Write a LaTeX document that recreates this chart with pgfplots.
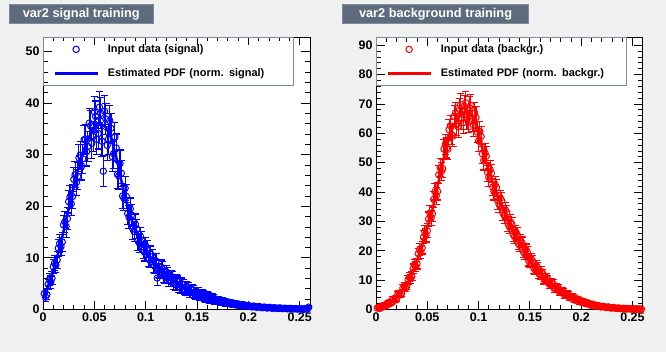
\documentclass[border=0pt]{standalone}
\usepackage{fontspec}
\setmainfont{Liberation Sans}
\usepackage{pgfplots}
\pgfplotsset{compat=1.18}
\usepackage{pgfplotstable}
\definecolor{canvasbg}{HTML}{F0F0F0}
\definecolor{titlebox}{HTML}{5D6B7D}
\definecolor{titleborder}{HTML}{7D8B9D}
\definecolor{legborder}{HTML}{7D8B9D}

\pgfplotstableread{
x y e
0.00125 3.1 0.8
0.00375 2.9 0.9
0.00625 5.8 1.1
0.00875 6.1 1.3
0.01125 9.0 1.4
0.01375 9.6 1.6
0.01625 12.8 1.7
0.01875 13.1 1.9
0.02125 17.0 2.0
0.02375 17.6 2.1
0.02625 21.8 2.3
0.02875 21.9 2.4
0.03125 26.1 2.5
0.03375 25.8 2.6
0.03625 29.9 2.7
0.03875 29.2 2.8
0.04125 33.0 2.8
0.04375 31.6 2.9
0.04625 35.6 2.9
0.04875 33.5 2.9
0.05125 37.4 3.0
0.05375 34.1 3.0
0.05625 38.0 3.0
0.05875 26.8 3.0
0.06125 36.9 3.0
0.06375 33.0 2.9
0.06625 35.1 2.9
0.06875 30.2 2.8
0.07125 31.3 2.7
0.07375 25.9 2.6
0.07625 26.4 2.5
0.07875 21.6 2.4
0.08125 21.9 2.3
0.08375 17.9 2.2
0.08625 18.3 2.1
0.08875 15.1 2.0
0.09125 15.6 1.9
0.09375 12.9 1.9
0.09625 13.4 1.8
0.09875 11.1 1.7
0.10125 11.7 1.7
0.10375 9.7 1.6
0.10625 10.2 1.5
0.10875 8.4 1.5
0.11125 6.1 1.4
0.11375 7.4 1.4
0.11625 7.9 1.4
0.11875 6.4 1.3
0.12125 6.9 1.3
0.12375 5.6 1.2
0.12625 6.1 1.2
0.12875 4.9 1.2
0.13125 5.4 1.1
0.13375 4.3 1.1
0.13625 4.8 1.0
0.13875 3.8 1.0
0.14125 4.2 1.0
0.14375 3.3 1.0
0.14625 3.7 0.9
0.14875 2.9 0.9
0.15125 3.3 0.9
0.15375 2.5 0.8
0.15625 2.9 0.8
0.15875 2.2 0.8
0.16125 2.5 0.8
0.16375 1.9 0.7
0.16625 2.2 0.7
0.16875 1.6 0.7
0.17125 1.9 0.7
0.17375 1.4 0.6
0.17625 1.6 0.6
0.17875 1.2 0.6
0.18125 1.4 0.6
0.18375 1.0 0.5
0.18625 1.2 0.5
0.18875 0.9 0.5
0.19125 1.0 0.5
0.19375 0.7 0.5
0.19625 0.9 0.4
0.19875 0.6 0.4
0.20125 0.7 0.4
0.20375 0.5 0.4
0.20625 0.6 0.4
0.20875 0.45 0.35
0.21125 0.55 0.35
0.21375 0.35 0.3
0.21625 0.45 0.3
0.21875 0.3 0.3
0.22125 0.4 0.3
0.22375 0.25 0.3
0.22625 0.3 0.25
0.22875 0.22 0.25
0.23125 0.28 0.25
0.23375 0.18 0.2
0.23625 0.22 0.2
0.23875 0.15 0.2
0.24125 0.2 0.2
0.24375 0.12 0.2
0.24625 0.16 0.2
0.24875 0.1 0.15
0.25125 0.14 0.15
0.25375 0.08 0.15
0.25625 0.12 0.15
0.25875 0.45 0.3
}\sigdata

\pgfplotstableread{
x y e
0.0025 2.4 0.9
0.005 4.9 1.0
0.0075 5.3 1.2
0.01 8.3 1.4
0.0125 8.6 1.5
0.015 11.9 1.7
0.0175 12.2 1.8
0.02 16.4 1.9
0.0225 16.1 2.1
0.025 20.9 2.2
0.0275 20.5 2.3
0.03 25.2 2.4
0.0325 24.6 2.5
0.035 29.4 2.6
0.0375 27.8 2.7
0.04 32.9 2.8
0.0425 30.6 2.8
0.045 36.1 2.9
0.0475 32.2 2.9
0.05 38.3 3.0
0.0525 33.0 3.0
0.055 39.2 3.0
0.0575 32.6 3.0
0.06 38.4 3.0
0.0625 31.8 3.0
0.065 36.6 2.9
0.0675 29.6 2.9
0.07 33.4 2.8
0.0725 26.2 2.7
0.075 28.3 2.6
0.0775 22.0 2.4
0.08 23.5 2.3
0.0825 18.6 2.2
0.085 19.5 2.1
0.0875 15.6 2.0
0.09 16.5 2.0
0.0925 13.3 1.9
0.095 14.1 1.8
0.0975 11.5 1.7
0.1 12.3 1.7
0.1025 9.9 1.6
0.105 10.7 1.6
0.1075 8.6 1.5
0.11 9.4 1.5
0.1125 7.6 1.4
0.115 8.2 1.4
0.1175 6.6 1.3
0.12 7.2 1.3
0.1225 5.8 1.3
0.125 6.4 1.2
0.1275 5.1 1.2
0.13 5.6 1.1
0.1325 4.4 1.1
0.135 5.0 1.1
0.1375 3.9 1.0
0.14 4.4 1.0
0.1425 3.4 1.0
0.145 3.9 0.9
0.1475 3.0 0.9
0.15 3.4 0.9
0.1525 2.6 0.85
0.155 3.0 0.8
0.1575 2.3 0.8
0.16 2.6 0.8
0.1625 2.0 0.75
0.165 2.3 0.7
0.1675 1.7 0.7
0.17 1.95 0.65
0.1725 1.45 0.65
0.175 1.7 0.6
0.1775 1.25 0.6
0.18 1.45 0.55
0.1825 1.05 0.55
0.185 1.25 0.5
0.1875 0.9 0.5
0.19 1.05 0.5
0.1925 0.75 0.45
0.195 0.9 0.45
0.1975 0.65 0.4
0.2 0.75 0.4
0.2025 0.55 0.4
0.205 0.65 0.4
0.2075 0.45 0.35
0.21 0.55 0.35
0.2125 0.38 0.35
0.215 0.45 0.3
0.2175 0.32 0.3
0.22 0.4 0.3
0.2225 0.27 0.3
0.225 0.33 0.25
0.2275 0.23 0.25
0.23 0.29 0.25
0.2325 0.2 0.25
0.235 0.24 0.2
0.2375 0.16 0.2
0.24 0.2 0.2
0.2425 0.13 0.2
0.245 0.17 0.2
0.2475 0.11 0.15
0.25 0.15 0.15
0.2525 0.09 0.15
0.255 0.13 0.15
0.2575 0.08 0.15
}\sigdatab

\pgfplotstableread{
x y
0 2.0
0.00125 2.6
0.00625 5.2
0.01125 8.4
0.01625 12.0
0.02125 16.2
0.02625 20.6
0.03125 25.0
0.03625 28.8
0.04125 31.8
0.04625 34.0
0.05125 35.4
0.05625 36.0
0.06125 35.3
0.06625 33.3
0.07125 29.6
0.07625 25.0
0.08125 20.8
0.08625 17.4
0.09125 14.8
0.09625 12.7
0.10125 11.0
0.10625 9.6
0.11125 8.4
0.11625 7.4
0.12125 6.5
0.12625 5.7
0.13125 5.0
0.13625 4.4
0.14125 3.9
0.14625 3.4
0.15125 3.0
0.15625 2.62
0.16125 2.28
0.16625 1.97
0.17125 1.7
0.17625 1.45
0.18125 1.24
0.18625 1.05
0.19125 0.9
0.19625 0.76
0.20125 0.64
0.20625 0.54
0.21125 0.46
0.21625 0.39
0.22125 0.33
0.22625 0.28
0.23125 0.24
0.23625 0.2
0.24125 0.17
0.24625 0.14
0.25125 0.12
0.25625 0.1
0.26 0.09
}\sigpdf

\pgfplotstableread{
x y e
0.00125 0.5 0.3
0.00375 0.4 0.35
0.00625 1.3 0.45
0.00875 1.1 0.5
0.01125 2.2 0.6
0.01375 2.0 0.7
0.01625 3.5 0.8
0.01875 3.2 0.85
0.02125 5.1 0.95
0.02375 5.0 1.05
0.02625 7.3 1.15
0.02875 7.4 1.25
0.03125 10.1 1.4
0.03375 10.5 1.5
0.03625 13.9 1.6
0.03875 14.6 1.8
0.04125 19.0 1.9
0.04375 19.5 2.0
0.04625 24.6 2.2
0.04875 25.3 2.3
0.05125 30.8 2.4
0.05375 31.2 2.6
0.05625 37.5 2.7
0.05875 38.7 2.9
0.06125 45.9 3.0
0.06375 47.0 3.1
0.06625 54.6 3.3
0.06875 55.0 3.4
0.07125 61.2 3.5
0.07375 59.6 3.5
0.07625 65.8 3.6
0.07875 63.0 3.6
0.08125 68.1 3.7
0.08375 64.9 3.7
0.08625 69.2 3.7
0.08875 65.1 3.7
0.09125 68.7 3.7
0.09375 64.2 3.7
0.09625 66.9 3.6
0.09875 60.4 3.5
0.10125 60.6 3.4
0.10375 53.0 3.3
0.10625 53.4 3.2
0.10875 46.8 3.1
0.11125 47.6 3.0
0.11375 41.7 3.0
0.11625 42.5 2.9
0.11875 37.0 2.8
0.12125 37.9 2.7
0.12375 32.9 2.6
0.12625 33.9 2.6
0.12875 29.2 2.5
0.13125 29.8 2.4
0.13375 25.6 2.3
0.13625 26.4 2.3
0.13875 22.5 2.2
0.14125 23.3 2.1
0.14375 19.6 2.0
0.14625 20.3 2.0
0.14875 16.7 1.9
0.15125 17.4 1.8
0.15375 14.1 1.7
0.15625 15.0 1.7
0.15875 12.2 1.6
0.16125 12.9 1.6
0.16375 10.2 1.5
0.16625 10.9 1.4
0.16875 8.7 1.4
0.17125 9.3 1.3
0.17375 7.2 1.3
0.17625 7.8 1.2
0.17875 6.0 1.2
0.18125 6.5 1.1
0.18375 4.9 1.1
0.18625 5.4 1.0
0.18875 4.0 1.0
0.19125 4.4 0.9
0.19375 3.2 0.9
0.19625 3.6 0.8
0.19875 2.6 0.8
0.20125 2.9 0.75
0.20375 2.0 0.7
0.20625 2.3 0.65
0.20875 1.5 0.6
0.21125 1.8 0.6
0.21375 1.2 0.55
0.21625 1.4 0.5
0.21875 0.9 0.45
0.22125 1.1 0.45
0.22375 0.7 0.4
0.22625 0.9 0.4
0.22875 0.5 0.35
0.23125 0.7 0.35
0.23375 0.4 0.3
0.23625 0.5 0.3
0.23875 0.3 0.3
0.24125 0.4 0.25
0.24375 0.2 0.25
0.24625 0.3 0.2
0.24875 0.15 0.2
0.25125 0.25 0.2
0.25375 0.12 0.2
0.25625 0.2 0.15
0.25875 0.1 0.15
}\bkgdata

\pgfplotstableread{
x y e
0.0025 0.7 0.3
0.005 0.6 0.4
0.0075 1.4 0.5
0.01 1.3 0.55
0.0125 2.4 0.65
0.015 2.3 0.7
0.0175 3.7 0.8
0.02 3.6 0.9
0.0225 5.6 1.0
0.025 5.5 1.1
0.0275 7.9 1.2
0.03 8.0 1.3
0.0325 11.0 1.45
0.035 11.3 1.55
0.0375 15.2 1.7
0.04 15.6 1.8
0.0425 20.4 2.0
0.045 21.0 2.1
0.0475 26.5 2.25
0.05 26.8 2.4
0.0525 32.8 2.5
0.055 32.6 2.6
0.0575 40.1 2.8
0.06 40.2 2.9
0.0625 48.3 3.05
0.065 48.0 3.2
0.0675 56.2 3.3
0.07 54.6 3.4
0.0725 62.6 3.5
0.075 59.1 3.5
0.0775 67.0 3.6
0.08 62.3 3.6
0.0825 69.8 3.7
0.085 63.6 3.7
0.0875 70.4 3.7
0.09 63.9 3.7
0.0925 69.5 3.7
0.095 62.6 3.6
0.0975 65.4 3.6
0.1 57.4 3.5
0.1025 58.9 3.4
0.105 50.8 3.3
0.1075 52.2 3.2
0.11 45.0 3.1
0.1125 46.4 3.0
0.115 40.2 2.9
0.1175 41.5 2.8
0.12 35.8 2.75
0.1225 37.1 2.7
0.125 32.0 2.6
0.1275 33.0 2.5
0.13 28.2 2.45
0.1325 29.0 2.4
0.135 24.8 2.3
0.1375 25.6 2.2
0.14 21.9 2.15
0.1425 22.6 2.1
0.145 19.0 2.0
0.1475 19.5 1.95
0.15 16.1 1.85
0.1525 16.6 1.8
0.155 13.6 1.7
0.1575 14.3 1.65
0.16 11.8 1.6
0.1625 12.2 1.5
0.165 9.9 1.45
0.1675 10.3 1.4
0.17 8.4 1.35
0.1725 8.8 1.3
0.175 7.0 1.25
0.1775 7.4 1.2
0.18 5.8 1.15
0.1825 6.1 1.1
0.185 4.8 1.05
0.1875 5.1 1.0
0.19 3.9 0.95
0.1925 4.2 0.9
0.195 3.2 0.85
0.1975 3.4 0.8
0.2 2.5 0.75
0.2025 2.7 0.7
0.205 2.0 0.65
0.2075 2.1 0.65
0.21 1.5 0.6
0.2125 1.65 0.55
0.215 1.15 0.5
0.2175 1.25 0.5
0.22 0.9 0.45
0.2225 0.95 0.45
0.225 0.7 0.4
0.2275 0.75 0.4
0.23 0.5 0.35
0.2325 0.6 0.35
0.235 0.4 0.3
0.2375 0.45 0.3
0.24 0.3 0.25
0.2425 0.35 0.25
0.245 0.2 0.25
0.2475 0.25 0.2
0.25 0.15 0.2
0.2525 0.2 0.2
0.255 0.12 0.2
0.2575 0.15 0.15
}\bkgdatab

\pgfplotstableread{
x y
0 0.2
0.005 0.8
0.01 1.5
0.015 2.6
0.02 4
0.025 6
0.03 8.5
0.035 12
0.04 16.5
0.045 22
0.05 28
0.055 34
0.06 42
0.065 50
0.07 57
0.075 62
0.08 65.5
0.085 67
0.09 67
0.095 65.5
0.1 60
0.105 53
0.11 47
0.115 42
0.12 37.5
0.125 33.5
0.13 29.5
0.135 26
0.14 23
0.145 20
0.15 17
0.155 14.5
0.16 12.5
0.165 10.5
0.17 9
0.175 7.5
0.18 6.3
0.185 5.2
0.19 4.3
0.195 3.5
0.2 2.8
0.205 2.2
0.21 1.7
0.215 1.3
0.22 1.0
0.225 0.8
0.23 0.6
0.235 0.45
0.24 0.35
0.245 0.25
0.25 0.2
0.255 0.15
0.26 0.1
}\bkgpdf

\pgfplotsset{
  tmva/.style={
    scale only axis, height=272.5bp,
    xmin=0, xmax=0.26, ymin=0,
    color=#1,
    axis background/.style={fill=white},
    axis line style={line width=0.8bp, draw=black},
    tick align=inside,
    major tick length=8.5bp, minor tick length=4.5bp,
    every tick/.style={draw=black, line width=0.8bp},
    xtick={0,0.05,0.1,0.15,0.2,0.25},
    xticklabels={0,0.05,0.1,0.15,0.2,0.25},
    minor x tick num=4,
    minor y tick num=4,
    ticklabel style={text=black, font=\bfseries\fontsize{12.5}{12.5}\selectfont},
    legend cell align=left,
    legend style={at={(0,1)}, anchor=north west, draw=legborder, line width=0.8bp,
      fill=none, inner xsep=10bp, inner ysep=0pt, column sep=9bp, row sep=0pt,
      nodes={inner sep=0pt, minimum height=24bp, text=black, font=\bfseries\fontsize{11}{11}\selectfont}},
    legend image code/.code={\draw[mark repeat=2,mark phase=2] plot coordinates {(0bp,0bp) (21.5bp,0bp) (43bp,0bp)};},
  },
  datastyle/.style={color=#1, only marks, mark=o, mark size=3.2bp,
    mark options={draw=#1, line width=1bp},
    error bars/.cd, y dir=both, y explicit,
    error bar style={draw=#1, color=#1, line width=1.1bp},
    error mark options={rotate=90, draw=#1, color=#1, mark size=3.6bp, line width=1.1bp}},
}

\begin{document}
\begin{tikzpicture}
\fill[canvasbg] (0bp,0bp) rectangle (666bp,352bp);
\node[fill=titlebox, draw=titleborder, line width=0.8bp, anchor=north west,
  minimum width=143.7bp, minimum height=18.7bp, inner sep=0pt, text=white,
  font=\bfseries\fontsize{12.8}{12.8}\selectfont] at (9bp,348bp) {var2 signal training};
\node[fill=titlebox, draw=titleborder, line width=0.8bp, anchor=north west,
  minimum width=186.3bp, minimum height=18.7bp, inner sep=0pt, text=white,
  font=\bfseries\fontsize{12.8}{12.8}\selectfont] at (342bp,348bp) {var2 background training};

\begin{axis}[tmva=blue, width=267bp, at={(43bp,42.5bp)}, anchor=south west,
  ymax=52.8, ytick={0,10,20,30,40,50}, yticklabels={0,10,20,30,40,50}]
\addplot[datastyle=blue] table[x=x, y=y, y error=e] {\sigdata};
\addlegendentry[text width=175.7bp]{Input data (signal)}
\addplot[forget plot, datastyle=blue] table[x=x, y=y, y error=e] {\sigdatab};
\addplot[blue, line width=2.5bp] table[x=x, y=y] {\sigpdf};
\addlegendentry[text width=175.7bp]{Estimated PDF (norm. signal)}
\end{axis}

\begin{axis}[tmva=red, width=266.7bp, at={(376bp,42.5bp)}, anchor=south west,
  ymax=92.8, ytick={0,10,20,30,40,50,60,70,80,90}, yticklabels={0,10,20,30,40,50,60,70,80,90}]
\addplot[datastyle=red] table[x=x, y=y, y error=e] {\bkgdata};
\addlegendentry[text width=175.7bp]{Input data (backgr.)}
\addplot[forget plot, datastyle=red] table[x=x, y=y, y error=e] {\bkgdatab};
\addplot[red, line width=2.5bp] table[x=x, y=y] {\bkgpdf};
\addlegendentry[text width=175.7bp]{Estimated PDF (norm. backgr.)}
\end{axis}
\end{tikzpicture}
\end{document}
